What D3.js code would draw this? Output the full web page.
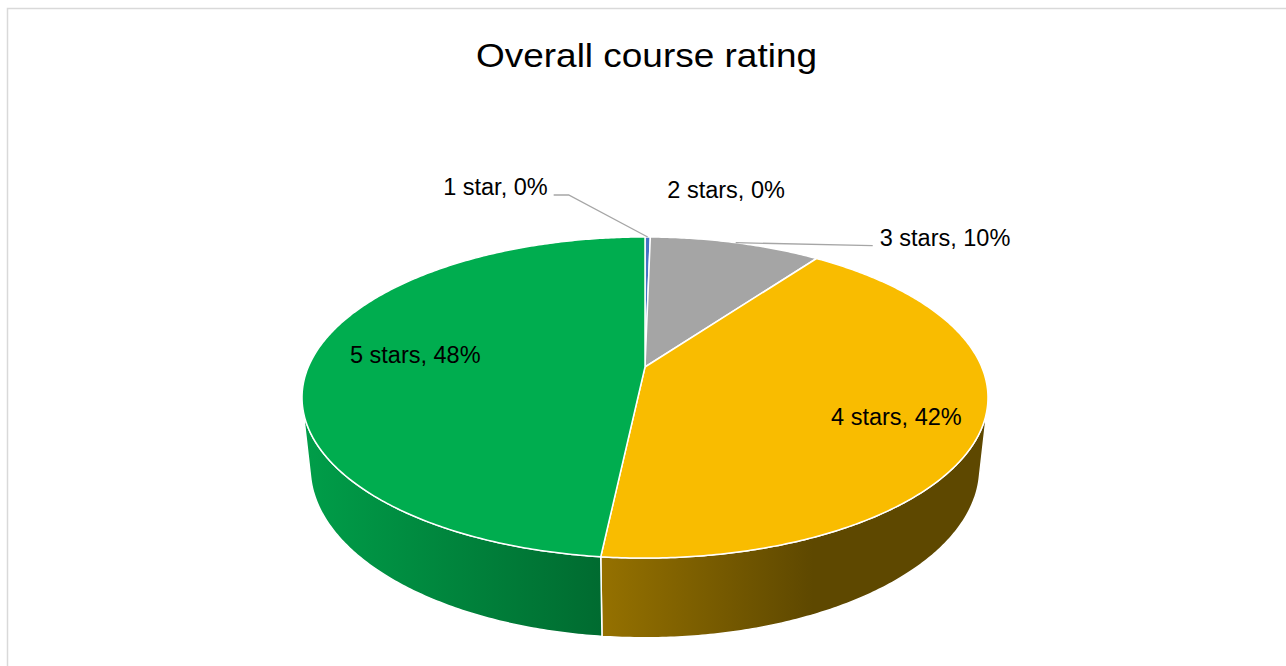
<!DOCTYPE html>
<html>
<head>
<meta charset="utf-8">
<script src="https://cdn.jsdelivr.net/npm/d3@7"></script>
<style>
  html, body { margin: 0; padding: 0; background: #ffffff; }
  svg { display: block; }
  text { font-family: "Liberation Sans", Arial, sans-serif; fill: #000; }
</style>
</head>
<body>
<svg id="chart" width="1286" height="666"></svg>
<script>
// ---- data ----
const title = "Overall course rating";
const categories = ["1 star", "2 stars", "3 stars", "4 stars", "5 stars"];
const values = [0.3, 0, 9.7, 41.7, 48.3];
const topColors = ["#4472C4", "#ED7D31", "#A5A5A5", "#F9BC00", "#00AD4F"];
const sideDark = ["#2F5597", "#A04E14", "#6E6E6E", "#5E4800", "#006B30"];
const sideLight = ["#4472C4", "#C55A11", "#8C8C8C", "#957100", "#009E49"];

// ---- layout ----
const W = 1286, H0 = 666;
const cx = 645, cy = 367;         // projected pie centre (top face)
const F = 1573, camH = 2.147, camL = 4.149, thick = 0.237;
const camN = Math.sqrt(camH * camH + camL * camL);

// perspective projection of a point on the pie (angle a clockwise from top/far, radius r, height y)
function proj(a, r, y) {
  const x = r * Math.sin(a), z = r * Math.cos(a);
  const dy = y - camH, dz = z + camL;
  const depth = (-dy * camH + dz * camL) / camN;
  const up = (dy * camL + dz * camH) / camN;
  return [cx + F * x / depth, cy - F * up / depth];
}

const svg = d3.select("#chart");
const defs = svg.append("defs");

// chart border
svg.append("rect")
  .attr("x", 7.5).attr("y", 8.5)
  .attr("width", W + 20).attr("height", H0 + 20)
  .attr("fill", "#fff").attr("stroke", "#d9d9d9").attr("stroke-width", 1.5);

// title
svg.append("text")
  .attr("x", 646.5).attr("y", 67)
  .attr("text-anchor", "middle")
  .attr("font-size", 33)
  .attr("textLength", 341)
  .attr("lengthAdjust", "spacingAndGlyphs")
  .text(title);

const total = d3.sum(values);
const pie = d3.pie().sort(null).value(d => d).startAngle(0).endAngle(2 * Math.PI);
const arcs = pie(values).map((d, i) => Object.assign(d, { i }));

const sampleArc = (a0, a1, y) => {
  const n = Math.max(2, Math.ceil(Math.abs(a1 - a0) / 0.01));
  return d3.range(n + 1).map(k => proj(a0 + (a1 - a0) * k / n, 1, y));
};

// visible side range (silhouette where cos a = -1/L)
const silA = Math.acos(-1 / camL);
const visStart = silA, visEnd = 2 * Math.PI - silA;

const sideG = svg.append("g");
arcs.forEach(d => {
  const a0 = Math.max(d.startAngle, visStart), a1 = Math.min(d.endAngle, visEnd);
  if (a1 <= a0) return;
  const topPts = sampleArc(a0, a1, 0);
  const botPts = sampleArc(a0, a1, -thick).reverse();
  const xs = topPts.concat(botPts).map(p => p[0]);
  const gid = "side" + d.i;
  const g = defs.append("linearGradient").attr("id", gid)
    .attr("gradientUnits", "userSpaceOnUse")
    .attr("x1", d3.min(xs)).attr("x2", d3.max(xs)).attr("y1", 0).attr("y2", 0);
  g.append("stop").attr("offset", "0%").attr("stop-color", sideLight[d.i]);
  if (d.i === 3) g.append("stop").attr("offset", "55%").attr("stop-color", sideDark[d.i]);
  g.append("stop").attr("offset", "100%").attr("stop-color", sideDark[d.i]);
  sideG.append("path")
    .attr("d", d3.line()(topPts.concat(botPts)) + "Z")
    .attr("fill", `url(#${gid})`)
    .attr("stroke", "#fff").attr("stroke-width", 1.5).attr("stroke-linejoin", "round");
});

// top faces
const topG = svg.append("g");
arcs.forEach(d => {
  if (d.endAngle - d.startAngle <= 0) return;
  const pts = [proj(0, 0, 0)].concat(sampleArc(d.startAngle, d.endAngle, 0));
  topG.append("path")
    .attr("d", d3.line()(pts) + "Z")
    .attr("fill", topColors[d.i])
    .attr("stroke", "#fff").attr("stroke-width", 1.5).attr("stroke-linejoin", "round");
});

// labels
const pctText = v => Math.round(v / total * 100) + "%";
const labelSize = 23.5;
// inside labels: placed at a fraction of the radius along the mid angle, with a nudge
const inside = { 3: { r: 0.75, dx: 3, dy: 14 }, 4: { r: 0.70, dx: 4, dy: 2 } };
// outside labels: offsets from the slice's rim point, with optional leader elbow
const outside = {
  0: { dx: -100, dy: -42, anchor: "end", leader: [[-79, -42], [-94, -42]] },
  1: { dx: 17, dy: -39, anchor: "start", leader: null },
  2: { dx: 144, dy: 3, anchor: "start", leader: [[137, 3]] }
};
const labG = svg.append("g");
arcs.forEach(d => {
  const mid = (d.startAngle + d.endAngle) / 2;
  const txt = categories[d.i] + ", " + pctText(d.value);
  if (inside[d.i] !== undefined) {
    const o = inside[d.i];
    const p = proj(mid, o.r, 0);
    labG.append("text")
      .attr("x", p[0] + o.dx).attr("y", p[1] + o.dy)
      .attr("text-anchor", "middle").attr("font-size", labelSize)
      .text(txt);
  } else {
    const o = outside[d.i];
    const rim = proj(mid, 1, 0);
    if (o.leader) {
      const pts = [rim].concat(o.leader.map(q => [rim[0] + q[0], rim[1] + q[1]]));
      labG.append("path")
        .attr("d", d3.line()(pts))
        .attr("fill", "none").attr("stroke", "#a6a6a6").attr("stroke-width", 1.3);
    }
    labG.append("text")
      .attr("x", rim[0] + o.dx).attr("y", rim[1] + o.dy)
      .attr("text-anchor", o.anchor).attr("font-size", labelSize)
      .text(txt);
  }
});
</script>
</body>
</html>
